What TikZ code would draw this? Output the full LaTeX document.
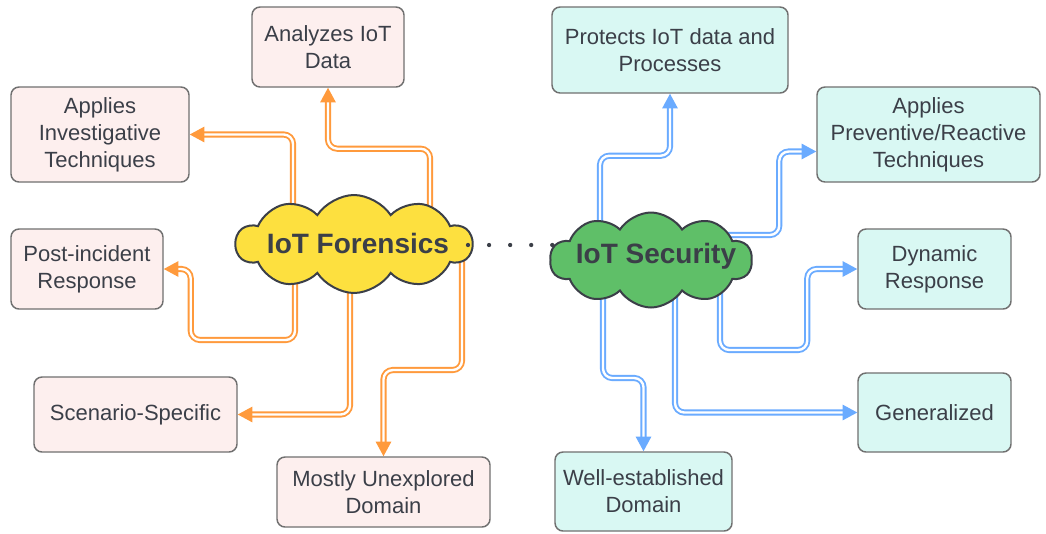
\documentclass[tikz,border=0pt]{standalone}
\usepackage{fontspec}
\setmainfont{Liberation Sans}
\usetikzlibrary{shapes.symbols,arrows.meta,calc,backgrounds}
\definecolor{txt}{HTML}{3B3F48}
\definecolor{pinkf}{HTML}{FDEFEE}
\definecolor{tealf}{HTML}{D9F8F3}
\definecolor{bord}{HTML}{707070}
\definecolor{forange}{HTML}{FF9A3C}
\definecolor{sblue}{HTML}{6AABFF}
\definecolor{fyellow}{HTML}{FDE03F}
\definecolor{sgreen}{HTML}{5FBF68}
\begin{document}
\begin{tikzpicture}[x=0.75pt,y=-0.75pt,
  box/.style={draw=bord, line width=1.1pt, rounded corners=6pt, text=txt,
    font=\fontsize{16.5}{20.25}\selectfont, align=center, inner sep=0pt},
  fbox/.style={box, fill=pinkf},
  sbox/.style={box, fill=tealf},
  cloudn/.style={cloud, cloud puffs=10, cloud puff arc=115, draw=txt, line width=1.5pt, inner sep=0pt},
  cloudtext/.style={font=\bfseries\fontsize{21}{24}\selectfont, text=txt, inner sep=0pt},
  farr/.style={draw=forange, double=white, double distance=1.8pt, line width=1.4pt,
    rounded corners=7pt, -{Triangle[length=11pt,width=11.5pt]}},
  sarr/.style={farr, draw=sblue},
  dotline/.style={draw=txt, line width=3.2pt, line cap=round, dash pattern=on 0pt off 15.8pt}
]
\useasboundingbox (0,0) rectangle (1046,533);

% boxes
\node[fbox, minimum width=152*0.75pt, minimum height=80*0.75pt] (an) at (328,47) {Analyzes IoT\\Data};
\node[fbox, minimum width=178*0.75pt, minimum height=95*0.75pt] (ai) at (100,134.5) {Applies\\Investigative\\Techniques};
\node[fbox, minimum width=152*0.75pt, minimum height=80*0.75pt] (pi) at (87,269) {Post-incident\\Response};
\node[fbox, minimum width=203*0.75pt, minimum height=75*0.75pt] (ss) at (135.5,414.5) {Scenario-Specific};
\node[fbox, minimum width=213*0.75pt, minimum height=70*0.75pt] (mu) at (383.5,492) {Mostly Unexplored\\Domain};
\node[sbox, minimum width=236*0.75pt, minimum height=86*0.75pt] (pr) at (670,50) {Protects IoT data and\\Processes};
\node[sbox, minimum width=223*0.75pt, minimum height=95*0.75pt] (ap) at (928.5,134.5) {Applies\\Preventive/Reactive\\Techniques};
\node[sbox, minimum width=153*0.75pt, minimum height=80*0.75pt] (dr) at (934.5,269) {Dynamic\\Response};
\node[sbox, minimum width=153*0.75pt, minimum height=79*0.75pt] (ge) at (934.5,412.5) {Generalized};
\node[sbox, minimum width=177*0.75pt, minimum height=79*0.75pt] (we) at (643.5,491.5) {Well-established\\Domain};

% clouds
\node[cloudn, fill=fyellow, aspect=2.4, minimum width=236*0.75pt, minimum height=98*0.75pt] (fc) at (354,244) {};
\node[cloudtext] (fct) at (358,243) {IoT Forensics};
\node[cloudn, fill=sgreen, aspect=2.13, minimum width=202*0.75pt, minimum height=95*0.75pt] (sc) at (651,260) {};
\node[cloudtext] (sct) at (656,256) {IoT Security};

\draw[dotline] ($(fc.center)+(114,1)$) -- ($(sc.center)+(-98,-15)$);

\begin{scope}[on background layer]
\fill[white] (0,0) rectangle (1046,533);
\draw[farr] ($(fc.center)+(76,0)$) |- ($(an.south)+(0,61)$) -- (an.south);
\draw[farr] ($(fc.center)+(-61,0)$) |- (ai.east);
\draw[farr] ($(fc.center)+(-59,0)$) -- ($(fc.center)+(-59,96)$) -| ($(pi.east)+(27,0)$) -- (pi.east);
\draw[farr] ($(fc.center)+(-4,0)$) |- (ss.east);
\draw[farr] ($(fc.center)+(108,0)$) -- ($(fc.center)+(108,126)$) -| (mu.north);
\draw[sarr] ($(sc.center)+(-51,0)$) |- ($(pr.south)+(0,62)$) -- (pr.south);
\draw[sarr] ($(sc.center)+(0,-25)$) -| ($(ap.west)+(-37,17)$) -- ($(ap.west)+(0,17)$);
\draw[sarr] ($(sc.center)+(69,0)$) |- ($(dr.west)+(-50,81)$) |- (dr.west);
\draw[sarr] ($(sc.center)+(24,0)$) |- (ge.west);
\draw[sarr] ($(sc.center)+(-48,0)$) -- ($(sc.center)+(-48,118)$) -| (we.north);
\end{scope}
\end{tikzpicture}
\end{document}
